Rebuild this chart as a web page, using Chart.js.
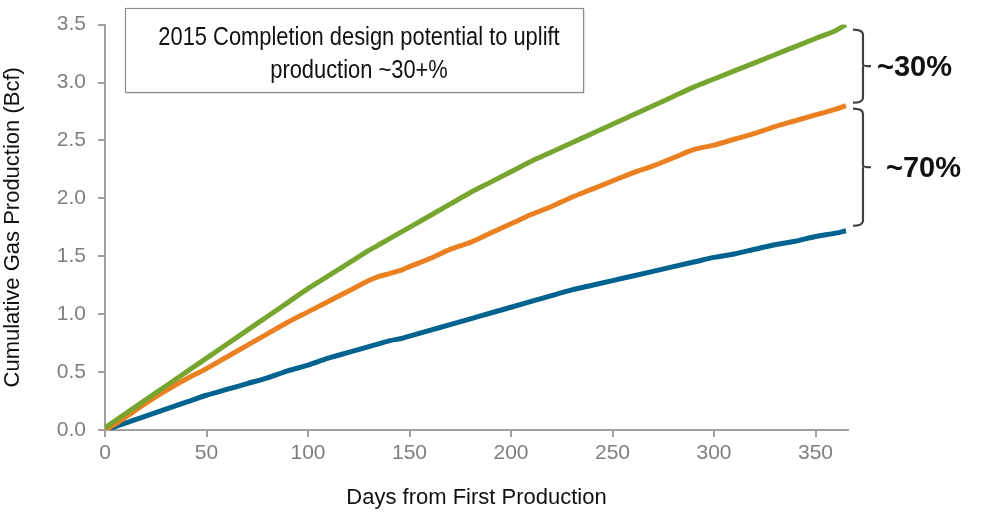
<!DOCTYPE html>
<html>
<head>
<meta charset="utf-8">
<script src="https://cdn.jsdelivr.net/npm/chart.js@4/dist/chart.umd.min.js"></script>
<style>
  html, body { margin: 0; padding: 0; background: #ffffff; }
  #wrap { width: 982px; height: 514px; }
</style>
</head>
<body>
<div id="wrap"><canvas id="c" width="982" height="514"></canvas></div>
<script>
// Days since first production
const days = [0, 5, 10, 20, 30, 40, 50, 60, 70, 80, 90, 100, 110, 120, 130, 134, 140, 146, 150,
  160, 170, 180, 190, 200, 210, 220, 230, 240, 250, 260, 270, 280, 290, 300, 310, 320, 330, 340, 350, 360, 365];

// Cumulative gas production, Bcf
const green2015 = [0.02, 0.08, 0.14, 0.26, 0.38, 0.50, 0.62, 0.74, 0.86, 0.98, 1.10, 1.22, 1.33, 1.44, 1.55, 1.59, 1.65, 1.71, 1.75,
  1.85, 1.95, 2.05, 2.14, 2.23, 2.32, 2.40, 2.48, 2.56, 2.64, 2.72, 2.80, 2.88, 2.96, 3.03, 3.10, 3.17, 3.24, 3.31, 3.38, 3.45, 3.50];
const orangeMid = [0.00, 0.05, 0.11, 0.23, 0.34, 0.44, 0.53, 0.63, 0.73, 0.83, 0.93, 1.02, 1.11, 1.20, 1.29, 1.32, 1.35, 1.38, 1.41,
  1.48, 1.56, 1.62, 1.70, 1.78, 1.86, 1.93, 2.01, 2.08, 2.15, 2.22, 2.28, 2.35, 2.42, 2.46, 2.51, 2.56, 2.62, 2.67, 2.72, 2.77, 2.80];
const blueBase = [0.00, 0.03, 0.06, 0.12, 0.18, 0.24, 0.30, 0.35, 0.40, 0.45, 0.51, 0.56, 0.62, 0.67, 0.72, 0.74, 0.77, 0.79, 0.81,
  0.86, 0.91, 0.96, 1.01, 1.06, 1.11, 1.16, 1.21, 1.25, 1.29, 1.33, 1.37, 1.41, 1.45, 1.49, 1.52, 1.56, 1.60, 1.63, 1.67, 1.70, 1.72];

const xTicks = [0, 50, 100, 150, 200, 250, 300, 350];
const yTicks = [0, 0.5, 1.0, 1.5, 2.0, 2.5, 3.0, 3.5];

const boxLines = ['2015 Completion design potential to uplift', 'production ~30+%'];
const upperGapLabel = '~30%';
const lowerGapLabel = '~70%';

const COLORS = { green: '#77A52F', orange: '#EA8020', blue: '#00628F', axis: '#A0A0A0', tick: '#7F7F7F' };
const FONT = '"Liberation Sans", Arial, sans-serif';

const toPoints = vals => vals.map((v, i) => ({ x: days[i], y: v }));

function series(label, vals, color) {
  return {
    label, data: toPoints(vals), borderColor: color, backgroundColor: color,
    borderWidth: 5, pointRadius: 0, cubicInterpolationMode: 'monotone', fill: false
  };
}

// Text box plus the two braces measuring the gaps between the series at day 365
const annotations = {
  id: 'annotations',
  afterDraw(chart) {
    const ctx = chart.ctx;
    const xs = chart.scales.x, ys = chart.scales.y;
    ctx.save();

    // callout box
    const bx = 125, by = 8, bw = 458, bh = 84;
    ctx.shadowColor = 'rgba(0,0,0,0.25)';
    ctx.shadowOffsetX = 1.5; ctx.shadowOffsetY = 1.5; ctx.shadowBlur = 1.5;
    ctx.fillStyle = '#ffffff';
    ctx.fillRect(bx, by, bw, bh);
    ctx.shadowColor = 'transparent';
    ctx.strokeStyle = '#8C8C8C';
    ctx.lineWidth = 1.2;
    ctx.strokeRect(bx + 0.5, by + 0.5, bw, bh);

    // condensed lettering inside the box
    const sx = 0.875;
    ctx.save();
    ctx.scale(sx, 1);
    ctx.fillStyle = '#111111';
    ctx.font = '25px ' + FONT;
    ctx.textAlign = 'center';
    ctx.textBaseline = 'middle';
    ctx.fillText(boxLines[0], (bx + bw / 2 + 5) / sx, 38);
    ctx.fillText(boxLines[1], (bx + bw / 2 + 5) / sx, 71);
    ctx.restore();

    // braces
    const lastIdx = days.length - 1;
    const xe = xs.getPixelForValue(days[lastIdx]);
    const yG = ys.getPixelForValue(green2015[lastIdx]);
    const yO = ys.getPixelForValue(orangeMid[lastIdx]);
    const yB = ys.getPixelForValue(blueBase[lastIdx]);
    function brace(top, bottom) {
      const x0 = xe + 7, x1 = xe + 17, nib = xe + 25, r = 5;
      const mid = (top + bottom) / 2;
      ctx.beginPath();
      ctx.moveTo(x0, top);
      ctx.quadraticCurveTo(x1, top, x1, top + r);
      ctx.lineTo(x1, mid - 2);
      ctx.quadraticCurveTo(x1, mid, nib, mid);
      ctx.moveTo(x1 + 1, mid);
      ctx.quadraticCurveTo(x1, mid, x1, mid + 2);
      ctx.lineTo(x1, bottom - r);
      ctx.quadraticCurveTo(x1, bottom, x0, bottom);
      ctx.stroke();
      return mid;
    }
    ctx.strokeStyle = '#404040';
    ctx.lineWidth = 2.2;
    const m1 = brace(yG + 5, yO - 3);
    const m2 = brace(yO + 3, yB - 5);
    ctx.fillStyle = '#111111';
    ctx.font = 'bold 29px ' + FONT;
    ctx.textAlign = 'left';
    ctx.textBaseline = 'middle';
    ctx.fillText(upperGapLabel, xe + 31, m1 + 2);
    ctx.fillText(lowerGapLabel, xe + 40, m2 + 2);
    ctx.restore();
  }
};

new Chart(document.getElementById('c'), {
  type: 'line',
  data: {
    datasets: [
      series('2015 completion design', green2015, COLORS.green),
      series('Improved completion', orangeMid, COLORS.orange),
      series('Baseline completion', blueBase, COLORS.blue)
    ]
  },
  options: {
    responsive: false,
    animation: false,
    devicePixelRatio: 1,
    layout: { padding: { top: 19, right: 134, bottom: 0, left: 0 } },
    plugins: { legend: { display: false }, tooltip: { enabled: false } },
    scales: {
      x: {
        type: 'linear', min: 0, max: 366,
        afterBuildTicks: s => { s.ticks = xTicks.map(v => ({ value: v })); },
        afterFit: s => { s.height = 84; },
        border: { display: true, color: COLORS.axis, width: 2 },
        grid: { display: true, drawOnChartArea: false, drawTicks: true, tickLength: 7, color: COLORS.axis, lineWidth: 2 },
        ticks: { color: COLORS.tick, font: { family: FONT, size: 21 }, padding: 4, maxRotation: 0, callback: v => String(v) },
        title: { display: true, text: 'Days from First Production', color: '#111111', font: { family: FONT, size: 22 }, padding: { top: 4, bottom: 3 } }
      },
      y: {
        type: 'linear', min: 0, max: 3.5,
        afterBuildTicks: s => { s.ticks = yTicks.map(v => ({ value: v })); },
        afterFit: s => { s.width = 105; },
        border: { display: true, color: COLORS.axis, width: 2 },
        grid: { display: true, drawOnChartArea: false, drawTicks: true, tickLength: 7, color: COLORS.axis, lineWidth: 2 },
        ticks: { color: COLORS.tick, font: { family: FONT, size: 21 }, padding: 12, callback: v => Number(v).toFixed(1) },
        title: { display: true, text: 'Cumulative Gas Production (Bcf)', color: '#111111', font: { family: FONT, size: 22 }, padding: { top: 0, bottom: 4 } }
      }
    }
  },
  plugins: [annotations]
});
</script>
</body>
</html>
